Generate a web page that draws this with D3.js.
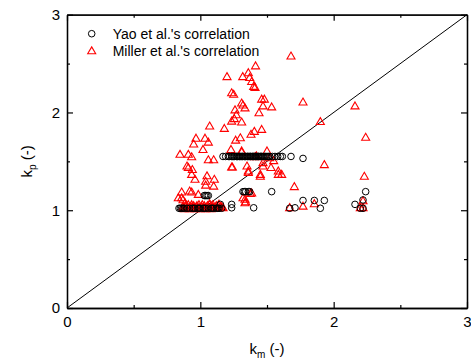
<!DOCTYPE html>
<html><head><meta charset="utf-8">
<script src="https://cdn.jsdelivr.net/npm/d3@7"></script>
<style>body{margin:0;background:#fff}svg{display:block}text{font-family:"Liberation Sans",Arial,sans-serif}</style>
</head><body><div id="chart"></div>
<script>
// Yao et al.'s correlation (circles)
const yaoX = [1.17,1.19,1.21,1.22,1.24,1.25,1.27,1.28,1.29,1.30,1.31,1.32,1.33,1.34,1.35,1.36,1.37,1.38,1.39,1.40,1.41,1.42,1.43,1.44,1.45,1.46,1.47,1.48,1.50,1.52,1.54,1.56,1.58,1.60,1.615,1.68,1.77,
  1.235,1.255,1.275,1.295,1.315,1.335,1.355,1.375,1.395,1.415,1.435,1.455,1.49,1.51,
  1.32,1.33,1.34,1.36,1.37,1.535,2.24,
  1.03,1.04,1.05,1.06,
  0.84,0.86,0.88,0.90,0.92,0.94,0.96,0.98,1.00,1.02,1.04,1.06,1.08,1.10,1.12,1.14,1.16,1.235,1.40,1.67,1.71,1.90,2.20,2.22,
  0.85,0.87,0.95,0.99,1.03,1.09,1.13,
  1.235,2.16,1.15,
  1.77,1.855,1.93,2.22];
const yaoY = [1.55,1.55,1.55,1.55,1.55,1.55,1.55,1.55,1.55,1.55,1.55,1.55,1.55,1.55,1.55,1.55,1.55,1.55,1.55,1.55,1.55,1.55,1.55,1.55,1.55,1.55,1.55,1.55,1.55,1.55,1.55,1.55,1.55,1.55,1.55,1.55,1.53,
  1.55,1.55,1.55,1.55,1.55,1.55,1.55,1.55,1.55,1.55,1.55,1.55,1.55,1.55,
  1.19,1.19,1.19,1.19,1.19,1.19,1.19,
  1.15,1.15,1.15,1.15,
  1.02,1.02,1.02,1.02,1.02,1.02,1.02,1.02,1.02,1.02,1.02,1.02,1.02,1.02,1.02,1.02,1.02,1.025,1.025,1.02,1.025,1.02,1.02,1.02,
  1.02,1.02,1.02,1.02,1.02,1.02,1.02,
  1.06,1.06,1.06,
  1.10,1.10,1.10,1.105];
// Miller et al.'s correlation (triangles)
const millerX = [1.414,1.20,1.318,1.36,1.37,1.385,1.40,1.41,1.235,1.25,1.31,1.32,1.335,1.46,1.48,1.47,1.535,1.26,1.44,1.27,1.255,1.31,1.235,1.07,1.18,1.46,1.405,1.38,1.30,1.265,
  0.9675,1.035,1.06,0.95,1.02,1.23,1.31,1.50,0.8475,0.91,0.935,1.06,1.10,1.42,1.52,0.90,0.91,0.94,1.235,1.35,1.36,1.47,1.53,1.585,0.935,1.05,0.96,1.105,1.04,1.45,1.45,1.04,1.10,
  0.86,0.935,0.985,1.385,0.835,1.32,1.34,
  1.68,1.77,2.16,1.90,2.24,1.93,2.23,1.705,1.375,1.335,1.335,1.67,1.77,1.855,2.22,2.20,2.22,
  1.47,1.55,1.61,1.585,1.24,1.41,1.31,1.36,
  0.87,0.88,0.89,0.90,0.91,0.92,0.93,0.94,0.95,0.96,0.97,0.98,0.99,1.00,1.01,1.02,1.03,1.04,1.05,1.06,1.07,1.08,1.09,1.10,1.12,1.13,1.15,1.17,
  0.875,0.895,0.915,0.935,0.955,0.975,0.995,1.015,1.035,1.055,1.075,1.095,1.115,1.135,1.16,
  0.87,0.885,0.86,0.92,1.07,1.14];
const millerY = [2.47,2.36,2.36,2.40,2.35,2.31,2.26,2.25,2.195,2.18,2.09,2.07,2.04,2.13,2.13,2.06,2.05,2.02,1.99,1.97,1.93,1.895,1.905,1.855,1.83,1.82,1.80,1.77,1.735,1.71,
  1.73,1.73,1.69,1.67,1.615,1.615,1.60,1.60,1.565,1.565,1.54,1.51,1.51,1.55,1.53,1.445,1.43,1.41,1.435,1.445,1.395,1.445,1.43,1.36,1.36,1.345,1.31,1.31,1.29,1.36,1.34,1.25,1.24,
  1.18,1.18,1.155,1.17,1.12,1.12,1.08,
  2.57,2.10,2.06,1.90,1.74,1.46,1.34,1.235,1.165,1.105,1.07,1.02,1.035,1.06,1.09,1.02,1.02,
  1.48,1.50,1.36,1.395,1.435,1.54,1.59,1.38,
  1.03,1.01,1.04,1.02,1.05,1.01,1.03,1.02,1.04,1.01,1.03,1.02,1.05,1.01,1.03,1.02,1.04,1.01,1.03,1.02,1.05,1.01,1.03,1.02,1.04,1.02,1.03,1.02,
  1.02,1.04,1.02,1.05,1.02,1.04,1.02,1.05,1.02,1.04,1.02,1.05,1.02,1.04,1.03,
  1.10,1.07,1.12,1.19,1.06,1.055];
const xTicks = [0,1,2,3];
const yTicks = [0,1,2,3];
const minorTicks = [0.5,1.5,2.5];
const legendLabels = ["Yao et al.'s correlation","Miller et al.'s correlation"];

const W = 471, H = 361;
const m = {l:67, r:4, t:14.7, b:53};
const svg = d3.select("#chart").append("svg").attr("width",W).attr("height",H);
const x = d3.scaleLinear().domain([0,3]).range([m.l, W-m.r]);
const y = d3.scaleLinear().domain([0,3]).range([H-m.b, m.t]);
const fs = 15;

// diagonal
svg.append("line").attr("x1",x(0)).attr("y1",y(0)).attr("x2",x(3)).attr("y2",y(3))
  .attr("stroke","#000").attr("stroke-width",1);

// points
const tri = d3.symbol().type(d3.symbolTriangle).size(28);
svg.append("g").selectAll("path").data(millerX.map((v,i)=>[v,millerY[i]])).join("path")
  .attr("d",tri).attr("transform",d=>`translate(${x(d[0])},${y(d[1])})`)
  .attr("fill","none").attr("stroke","#ff0000").attr("stroke-width",1.1);
svg.append("g").selectAll("circle").data(yaoX.map((v,i)=>[v,yaoY[i]])).join("circle")
  .attr("cx",d=>x(d[0])).attr("cy",d=>y(d[1])).attr("r",3.3)
  .attr("fill","none").attr("stroke","#000").attr("stroke-width",1);

function style(g){
  g.selectAll(".domain").attr("stroke","#000").attr("stroke-width",1.3);
  g.selectAll(".tick line").attr("stroke","#000").attr("stroke-width",1.2);
  g.selectAll("text").attr("font-size",fs).attr("fill","#000").attr("font-family","Liberation Sans, Arial, sans-serif");
}
// bottom
svg.append("g").attr("transform",`translate(0,${y(0)})`)
  .call(d3.axisBottom(x).tickValues(xTicks).tickFormat(d3.format("d")).tickSize(-6).tickSizeOuter(0).tickPadding(8)).call(style);
svg.append("g").attr("transform",`translate(0,${y(0)})`)
  .call(d3.axisBottom(x).tickValues(minorTicks).tickFormat("").tickSize(-3).tickSizeOuter(0)).call(style);
// top
svg.append("g").attr("transform",`translate(0,${y(3)})`)
  .call(d3.axisTop(x).tickValues(xTicks).tickFormat("").tickSize(-6).tickSizeOuter(0)).call(style);
svg.append("g").attr("transform",`translate(0,${y(3)})`)
  .call(d3.axisTop(x).tickValues(minorTicks).tickFormat("").tickSize(-3).tickSizeOuter(0)).call(style);
// left
svg.append("g").attr("transform",`translate(${x(0)},0)`)
  .call(d3.axisLeft(y).tickValues(yTicks).tickFormat(d3.format("d")).tickSize(-6).tickSizeOuter(0).tickPadding(7)).call(style);
svg.append("g").attr("transform",`translate(${x(0)},0)`)
  .call(d3.axisLeft(y).tickValues(minorTicks).tickFormat("").tickSize(-3).tickSizeOuter(0)).call(style);
// right
svg.append("g").attr("transform",`translate(${x(3)},0)`)
  .call(d3.axisRight(y).tickValues(yTicks).tickFormat("").tickSize(-6).tickSizeOuter(0)).call(style);
svg.append("g").attr("transform",`translate(${x(3)},0)`)
  .call(d3.axisRight(y).tickValues(minorTicks).tickFormat("").tickSize(-3).tickSizeOuter(0)).call(style);

// axis titles
const xt = svg.append("text").attr("x",(x(0)+x(3))/2).attr("y",354).attr("text-anchor","middle").attr("font-size",fs);
xt.append("tspan").text("k");
xt.append("tspan").attr("font-size",10).attr("dy",4).text("m");
xt.append("tspan").attr("dy",-4).text(" (-)");
const yt = svg.append("text").attr("transform",`translate(32,${(y(0)+y(3))/2}) rotate(-90)`).attr("text-anchor","middle").attr("font-size",fs);
yt.append("tspan").text("k");
yt.append("tspan").attr("font-size",10).attr("dy",4).text("p");
yt.append("tspan").attr("dy",-4).text(" (-)");

// legend
const lg = svg.append("g");
lg.append("circle").attr("cx",91.7).attr("cy",33.7).attr("r",3.3).attr("fill","none").attr("stroke","#000");
lg.append("path").attr("d",tri).attr("transform","translate(91.7,51.5)").attr("fill","none").attr("stroke","#ff0000").attr("stroke-width",1.1);
lg.append("text").attr("x",112.7).attr("y",38.5).attr("font-size",14).text(legendLabels[0]);
lg.append("text").attr("x",112.7).attr("y",56).attr("font-size",14).text(legendLabels[1]);
</script></body></html>
